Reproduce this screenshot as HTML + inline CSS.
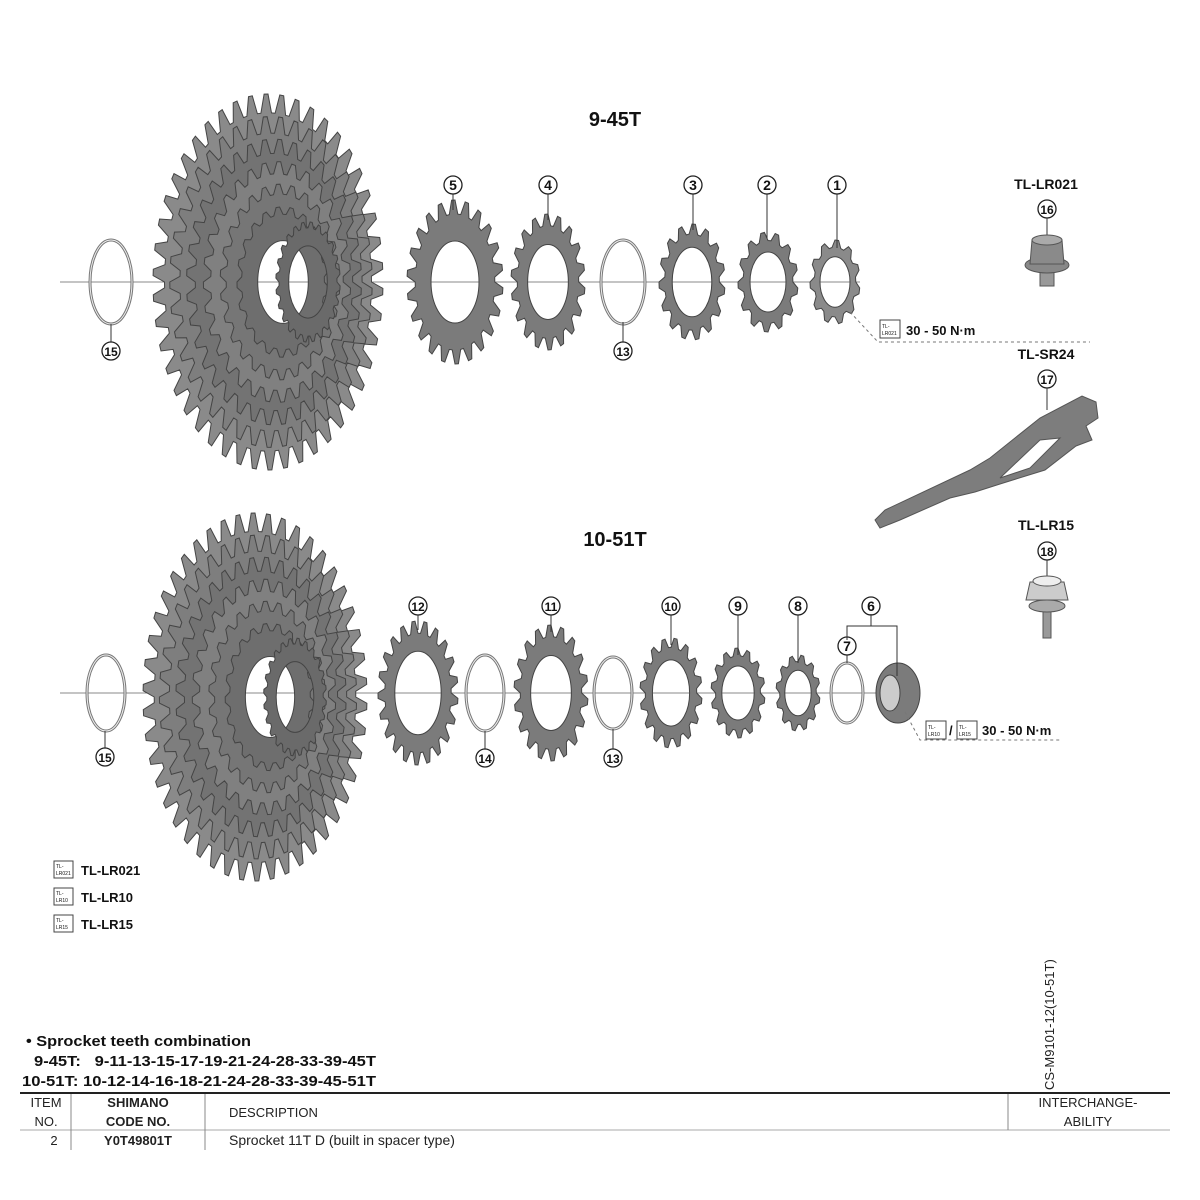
<!DOCTYPE html>
<html><head><meta charset="utf-8"><style>
html,body{margin:0;padding:0;background:#fff;}
svg{display:block;font-family:"Liberation Sans",sans-serif;}
</style></head><body>
<svg id="s" width="1200" height="1200" viewBox="0 0 1200 1200" xmlns="http://www.w3.org/2000/svg">
<rect width="1200" height="1200" fill="#fff"/>
<g id="axes" stroke="#888" stroke-width="1">
<line x1="60" y1="282" x2="860" y2="282"/>
<line x1="60" y1="693" x2="910" y2="693"/>
</g>
<g id="gears"></g>
<g id="lab" font-weight="bold" fill="#111">
<text x="615" y="126" font-size="20" text-anchor="middle">9-45T</text>
<text x="615" y="546" font-size="20" text-anchor="middle">10-51T</text>
<text x="1046" y="189" font-size="14" text-anchor="middle">TL-LR021</text>
<text x="1046" y="359" font-size="14" text-anchor="middle">TL-SR24</text>
<text x="1046" y="530" font-size="14" text-anchor="middle">TL-LR15</text>
</g>
<g id="callouts"></g>
<g font-weight="bold" font-size="13" fill="#111">
<path d="M850 312 L878 342 L1090 342" stroke="#777" stroke-dasharray="3,3" fill="none"/>
<rect x="880" y="320" width="20" height="18" fill="#fff" stroke="#444"/>
<text x="882" y="328" font-size="5" font-weight="normal">TL-</text><text x="882" y="335" font-size="5" font-weight="normal">LR021</text>
<text x="906" y="335">30 - 50 N·m</text>
<path d="M905 712 L920 740 L1060 740" stroke="#777" stroke-dasharray="3,3" fill="none"/>
<rect x="926" y="721" width="20" height="18" fill="#fff" stroke="#444"/>
<text x="928" y="729" font-size="5" font-weight="normal">TL-</text><text x="928" y="736" font-size="5" font-weight="normal">LR10</text>
<text x="949" y="735">/</text>
<rect x="957" y="721" width="20" height="18" fill="#fff" stroke="#444"/>
<text x="959" y="729" font-size="5" font-weight="normal">TL-</text><text x="959" y="736" font-size="5" font-weight="normal">LR15</text>
<text x="982" y="735">30 - 50 N·m</text>
<rect x="54" y="861" width="19" height="17" fill="#fff" stroke="#444"/><text x="56" y="868" font-size="5" font-weight="normal">TL-</text><text x="56" y="875" font-size="5" font-weight="normal">LR021</text>
<text x="81" y="875">TL-LR021</text>
<rect x="54" y="888" width="19" height="17" fill="#fff" stroke="#444"/><text x="56" y="895" font-size="5" font-weight="normal">TL-</text><text x="56" y="902" font-size="5" font-weight="normal">LR10</text>
<text x="81" y="902">TL-LR10</text>
<rect x="54" y="915" width="19" height="17" fill="#fff" stroke="#444"/><text x="56" y="922" font-size="5" font-weight="normal">TL-</text><text x="56" y="929" font-size="5" font-weight="normal">LR15</text>
<text x="81" y="929">TL-LR15</text>
</g>
<path d="M847 640 L847 626 L897 626 L897 676 M871 626 L871 614" stroke="#333" fill="none"/>
<g stroke="#555" fill="#888">
<line x1="1047" y1="218" x2="1047" y2="236" stroke="#333"/>
<rect x="1040" y="270" width="14" height="16" fill="#999"/>
<ellipse cx="1047" cy="265" rx="22" ry="8"/>
<path d="M1032 240 L1062 240 L1064 264 L1030 264 Z" fill="#8a8a8a"/>
<ellipse cx="1047" cy="240" rx="15" ry="5" fill="#aaa"/>
<line x1="1047" y1="388" x2="1047" y2="410" stroke="#333"/>
<path d="M875 520 L885 510 L970 470 L990 458 L1040 418 L1082 396 L1096 402 L1098 418 L1086 426 L1092 440 L1076 446 L1045 470 L1000 484 L975 492 L950 498 L900 520 L880 528 Z" fill="#7d7d7d"/>
<path d="M1000 478 L1040 440 L1060 438 L1030 468 Z" fill="#fff"/>
<line x1="1047" y1="560" x2="1047" y2="578" stroke="#333"/>
<rect x="1043" y="610" width="8" height="28" fill="#999"/>
<ellipse cx="1047" cy="606" rx="18" ry="6" fill="#aaa"/>
<path d="M1030 582 L1064 582 L1068 600 L1026 600 Z" fill="#ccc"/>
<ellipse cx="1047" cy="581" rx="14" ry="5" fill="#eee"/>
</g>
<g fill="#111" font-weight="bold" font-size="15">
<text x="26" y="1046" textLength="225" lengthAdjust="spacingAndGlyphs">• Sprocket teeth combination</text>
<text x="34" y="1066" textLength="342" lengthAdjust="spacingAndGlyphs">9-45T:&#160;&#160;&#160;9-11-13-15-17-19-21-24-28-33-39-45T</text>
<text x="22" y="1086" textLength="354" lengthAdjust="spacingAndGlyphs">10-51T: 10-12-14-16-18-21-24-28-33-39-45-51T</text>
</g>
<text transform="translate(1054,1090) rotate(-90)" font-size="13" fill="#222">CS-M9101-12(10-51T)</text>
<line x1="20" y1="1093" x2="1170" y2="1093" stroke="#222" stroke-width="2"/>
<line x1="20" y1="1130" x2="1170" y2="1130" stroke="#aaa" stroke-width="1"/>
<g stroke="#888"><line x1="71" y1="1094" x2="71" y2="1150"/><line x1="205" y1="1094" x2="205" y2="1150"/><line x1="1008" y1="1094" x2="1008" y2="1130"/></g>
<g fill="#222" font-size="13" text-anchor="middle">
<text x="46" y="1107">ITEM</text><text x="46" y="1126">NO.</text>
<text x="138" y="1107" font-weight="bold">SHIMANO</text><text x="138" y="1126" font-weight="bold">CODE NO.</text>
<text x="1088" y="1107">INTERCHANGE-</text><text x="1088" y="1126">ABILITY</text>
<text x="54" y="1145">2</text><text x="138" y="1145" font-weight="bold">Y0T49801T</text>
</g>
<text x="229" y="1117" font-size="13" fill="#222">DESCRIPTION</text>
<text x="229" y="1145" font-size="14" fill="#222">Sprocket 11T D (built in spacer type)</text>
</svg>
<script>
var NS="http://www.w3.org/2000/svg";
var G=document.getElementById("gears"),C=document.getElementById("callouts");
function gearPath(cx,cy,rx,ry,n,depth,inner){
 var d="",m=n*4;
 for(var i=0;i<m;i++){var a=i/m*2*Math.PI,k=i%4,r=(k==1||k==2)?1:1-depth;
  var x=cx+rx*r*Math.cos(a),y=cy+ry*r*Math.sin(a);d+=(i?"L":"M")+x.toFixed(1)+" "+y.toFixed(1);}
 d+="Z";
 if(inner>0){d+="M"+(cx+rx*inner)+" "+cy+"A"+(rx*inner)+" "+(ry*inner)+" 0 1 0 "+(cx-rx*inner)+" "+cy+"A"+(rx*inner)+" "+(ry*inner)+" 0 1 0 "+(cx+rx*inner)+" "+cy+"Z";}
 return d;}
function gear(cx,cy,rx,ry,n,inner,fill,depth){
 var p=document.createElementNS(NS,"path");p.setAttribute("d",gearPath(cx,cy,rx,ry,n,depth||0.17,inner));
 p.setAttribute("fill",fill||"#7b7b7b");p.setAttribute("fill-rule","evenodd");p.setAttribute("stroke","#444");p.setAttribute("stroke-width","1");G.appendChild(p);}
function ring(cx,cy,rx,ry){var e=document.createElementNS(NS,"ellipse");e.setAttribute("cx",cx);e.setAttribute("cy",cy);e.setAttribute("rx",rx);e.setAttribute("ry",ry);e.setAttribute("fill","none");e.setAttribute("stroke","#777");e.setAttribute("stroke-width","3");G.appendChild(e);
 var e2=e.cloneNode();e2.setAttribute("stroke","#eee");e2.setAttribute("stroke-width","1");G.appendChild(e2);}
function big(cx,cy,rx,ry){
 var cols=["#8a8a8a","#7e7e7e","#737373","#808080","#767676","#6e6e6e"];
 for(var i=0;i<6;i++){gear(cx+i*3,cy,rx*(1-i*0.12),ry*(1-i*0.12),Math.round(46-i*5),0.55,cols[i],0.1);}
 gear(cx+40,cy,rx*0.28,ry*0.32,24,0.6,"#6a6a6a",0.1);
}
function call(x,y,t,lx1,ly1,lx2,ly2){
 if(lx1!==undefined){var l=document.createElementNS(NS,"line");l.setAttribute("x1",lx1);l.setAttribute("y1",ly1);l.setAttribute("x2",lx2);l.setAttribute("y2",ly2);l.setAttribute("stroke","#333");C.appendChild(l);}
 var c=document.createElementNS(NS,"circle");c.setAttribute("cx",x);c.setAttribute("cy",y);c.setAttribute("r",9);c.setAttribute("fill","#fff");c.setAttribute("stroke","#222");c.setAttribute("stroke-width","1.3");C.appendChild(c);
 var tx=document.createElementNS(NS,"text");tx.setAttribute("x",x);tx.setAttribute("y",y+5);tx.setAttribute("text-anchor","middle");tx.setAttribute("font-size",t.length>1?"12":"14");tx.setAttribute("font-weight","bold");tx.setAttribute("fill","#111");tx.textContent=t;C.appendChild(tx);}
ring(111,282,21,42);
big(268,282,115,188);
gear(455,282,48,82,22,0.5);gear(548,282,37,68,18,0.55);ring(623,282,22,42);
gear(692,282,33,58,15,0.6);gear(768,282,30,50,13,0.6);
gear(835,282,25,42,11,0.6,"#8a8a8a");
ring(106,693,19,38);
big(255,697,112,184);
gear(418,693,40,72,21,0.58);ring(485,693,19,38);gear(551,693,37,68,18,0.55);ring(613,693,19,36);
gear(671,693,31,55,16,0.6);gear(738,693,27,45,14,0.6);gear(798,693,22,38,12,0.6);
ring(847,693,16,30);
var e=document.createElementNS(NS,"ellipse");e.setAttribute("cx",898);e.setAttribute("cy",693);e.setAttribute("rx",22);e.setAttribute("ry",30);e.setAttribute("fill","#7b7b7b");e.setAttribute("stroke","#444");G.appendChild(e);
var e3=e.cloneNode();e3.setAttribute("rx",10);e3.setAttribute("ry",18);e3.setAttribute("fill","#ccc");e3.setAttribute("cx",890);G.appendChild(e3);
call(453,185,"5",453,194,453,210);call(548,185,"4",548,194,548,220);call(693,185,"3",693,194,693,230);
call(767,185,"2",767,194,767,238);call(837,185,"1",837,194,837,248);
call(623,351,"13",623,342,623,322);call(111,351,"15",111,342,111,324);
call(1047,209,"16");call(1047,379,"17");call(1047,551,"18");
call(418,606,"12",418,615,418,630);call(551,606,"11",551,615,551,632);call(671,606,"10",671,615,671,645);
call(738,606,"9",738,615,738,655);call(798,606,"8",798,615,798,663);call(871,606,"6");call(847,646,"7",847,655,847,663);
call(485,758,"14",485,749,485,731);call(613,758,"13",613,749,613,729);call(105,757,"15",105,748,105,731);
</script>
</body></html>
